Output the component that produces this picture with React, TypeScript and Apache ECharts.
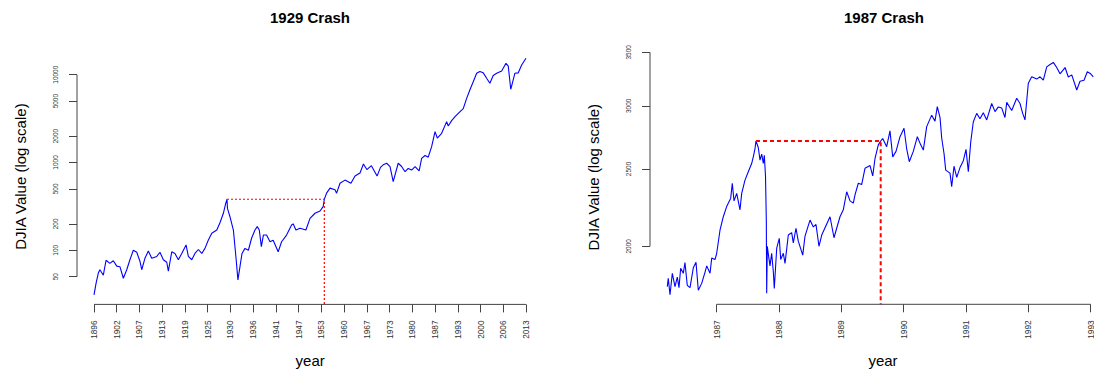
import React, { useEffect, useRef } from "react";
import * as echarts from "echarts";

// ---------- data ----------
// Left panel: x is the trading-day index axis measured in tick intervals (20 evenly spaced ticks)
const leftYearLabels = ["1896", "1902", "1907", "1913", "1919", "1925", "1930", "1936", "1941", "1947", "1953", "1960", "1967", "1973", "1980", "1987", "1993", "2000", "2006", "2013"];
const leftYTicks = [50, 100, 200, 500, 1000, 2000, 5000, 10000];
const leftPos = [
  0, 0.09, 0.19, 0.26, 0.41, 0.53, 0.7, 0.85, 1.0, 1.14, 1.29, 1.44, 1.58, 1.73, 1.88, 2.02, 2.1, 2.24, 2.39, 2.54,
  2.76, 2.9, 3.05, 3.2, 3.27, 3.42, 3.56, 3.71, 3.86, 4.05, 4.15, 4.3, 4.44, 4.59, 4.74, 4.88, 5.03, 5.18, 5.4, 5.54,
  5.69, 5.79, 5.85, 5.87, 5.98, 6.13, 6.24, 6.33, 6.42, 6.51, 6.64, 6.79, 6.93, 7.08, 7.18, 7.27, 7.36, 7.45, 7.59, 7.74,
  7.88, 8.1, 8.25, 8.47, 8.69, 8.76, 8.88, 9.06, 9.32, 9.5, 9.72, 9.94, 10.08, 10.13, 10.23, 10.38, 10.6, 10.67, 10.82, 11.04,
  11.3, 11.48, 11.7, 11.85, 12.0, 12.2, 12.45, 12.6, 12.72, 12.87, 13.02, 13.16, 13.38, 13.53, 13.68, 13.82, 13.97, 14.12, 14.3, 14.41,
  14.56, 14.7, 14.85, 15.0, 15.1, 15.29, 15.51, 15.58, 15.73, 15.88, 16.1, 16.24, 16.39, 16.53, 16.68, 16.83, 16.97, 17.12, 17.27, 17.41,
  17.56, 17.71, 17.93, 18.12, 18.22, 18.33, 18.51, 18.66, 18.81, 19.0,
];
const leftValues = [
  31, 42, 55, 60, 52, 77, 71, 76, 66, 65, 48, 60, 78, 100, 95, 75, 60, 81, 98, 81,
  85, 95, 78, 73, 58, 96, 92, 78, 92, 115, 85, 78, 92, 102, 92, 105, 131, 156, 170, 206,
  264, 340, 381, 300, 241, 170, 85, 46, 65, 92, 105, 100, 137, 170, 186, 170, 110, 149, 149, 125,
  130, 96, 125, 149, 194, 200, 170, 178, 170, 231, 264, 280, 314, 381, 447, 510, 490, 447, 580, 630,
  580, 700, 760, 960, 830, 920, 700, 880, 940, 980, 896, 604, 980, 900, 785, 855, 820, 896, 800, 1115,
  1200, 1150, 1514, 2244, 1900, 2150, 2919, 2600, 3000, 3326, 3794, 4100, 5380, 6700, 8320, 10370, 10900, 10500, 9100, 7980,
  9800, 10370, 11000, 13480, 12500, 6820, 10370, 10500, 12900, 15400,
];
const leftPeakPos = 5.85;
const leftRecoveryPos = 10.13;
const leftPeakValue = 381;

// Right panel: x is calendar years
const rightYearTicks = [1987, 1988, 1989, 1990, 1991, 1992, 1993];
const rightYTicks = [2000, 2500, 3000, 3500];
const rightYears = [
  1986.207, 1986.223, 1986.251, 1986.288, 1986.331, 1986.368, 1986.395, 1986.422, 1986.464, 1986.491,
  1986.528, 1986.572, 1986.625, 1986.668, 1986.705, 1986.759, 1986.812, 1986.84, 1986.893, 1986.92,
  1986.973, 1987.0, 1987.053, 1987.106, 1987.16, 1987.225, 1987.25, 1987.278, 1987.321, 1987.374,
  1987.401, 1987.454, 1987.507, 1987.562, 1987.587, 1987.614, 1987.63, 1987.667, 1987.695, 1987.722,
  1987.748, 1987.764, 1987.783, 1987.796, 1987.802, 1987.812, 1987.834, 1987.855, 1987.882, 1987.908,
  1987.924, 1987.963, 1988.004, 1988.027, 1988.069, 1988.096, 1988.149, 1988.203, 1988.229, 1988.272,
  1988.309, 1988.38, 1988.417, 1988.497, 1988.55, 1988.593, 1988.641, 1988.685, 1988.738, 1988.818,
  1988.882, 1988.925, 1988.978, 1989.031, 1989.086, 1989.139, 1989.192, 1989.219, 1989.272, 1989.326,
  1989.379, 1989.46, 1989.503, 1989.54, 1989.593, 1989.631, 1989.663, 1989.727, 1989.78, 1989.824,
  1989.877, 1989.941, 1990.005, 1990.048, 1990.09, 1990.154, 1990.219, 1990.273, 1990.315, 1990.369,
  1990.449, 1990.502, 1990.539, 1990.583, 1990.61, 1990.647, 1990.674, 1990.743, 1990.77, 1990.807,
  1990.851, 1990.903, 1990.957, 1991.0, 1991.037, 1991.075, 1991.117, 1991.171, 1991.224, 1991.277,
  1991.332, 1991.412, 1991.465, 1991.518, 1991.573, 1991.625, 1991.653, 1991.733, 1991.813, 1991.866,
  1991.909, 1991.946, 1991.999, 1992.054, 1992.134, 1992.187, 1992.24, 1992.295, 1992.348, 1992.401,
  1992.455, 1992.508, 1992.589, 1992.641, 1992.696, 1992.776, 1992.829, 1992.893, 1992.946, 1993.0,
  1993.042,
];
const rightValues = [
  1780, 1823, 1739, 1850, 1780, 1830, 1775, 1877, 1850, 1908,
  1787, 1775, 1880, 1910, 1762, 1797, 1855, 1890, 1850, 1933,
  1925, 1960, 2095, 2178, 2243, 2298, 2399, 2280, 2330, 2222,
  2330, 2421, 2480, 2541, 2589, 2650, 2710, 2660, 2565, 2610,
  2540, 2600, 2450, 2157, 1746, 2000, 1941, 1890, 1960, 1860,
  1771, 1990, 2046, 1925, 1960, 1903, 2066, 2080, 2020, 2107,
  2030, 1950, 2060, 2157, 2115, 2130, 2000, 2066, 2110, 2178,
  2050, 2107, 2178, 2222, 2341, 2280, 2265, 2320, 2399, 2390,
  2505, 2525, 2450, 2577, 2680, 2710, 2730, 2666, 2790, 2589,
  2630, 2744, 2812, 2650, 2553, 2630, 2744, 2680, 2640, 2825,
  2920, 2870, 2993, 2900, 2732, 2614, 2492, 2470, 2375, 2520,
  2440, 2510, 2560, 2645, 2480, 2700, 2865, 2935, 2890, 2940,
  2880, 3020, 2950, 2990, 2980, 2900, 3030, 2960, 3066, 3020,
  2935, 2880, 3201, 3262, 3240, 3262, 3230, 3357, 3380, 3400,
  3350, 3290, 3350, 3260, 3280, 3140, 3220, 3230, 3310, 3290,
  3262,
];
const rightPeakYear = 1987.63;
const rightRecoveryYear = 1989.631;
const rightPeakValue = 2710;

// ---------- axis ranges (R style, 4% padding) ----------
const L_X_MIN = -0.7477;
const L_X_MAX = 19.761;
const L_Y_MIN = 24.17;
const L_Y_MAX = 19726;
const R_X_MIN = 1985.93;
const R_X_MAX = 1993.406;
const R_Y_MIN = 1691.7;
const R_Y_MAX = 3524;

const FONT = "'Liberation Sans', Arial, Helvetica, sans-serif";
const AXIS_COLOR = "#444";

function segment(data: number[][], xi: number, color = AXIS_COLOR, width = 1, type: any = "solid") {
  return {
    type: "line",
    xAxisIndex: xi,
    yAxisIndex: xi,
    data,
    symbol: "none",
    clip: false,
    silent: true,
    lineStyle: { color, width, type },
  };
}

export default function App() {
  const ref = useRef<HTMLDivElement>(null);
  useEffect(() => {
    if (!ref.current) return;
    const chart = echarts.init(ref.current, undefined, { renderer: "svg" });
    const xCommon = (idx: number) => ({
      type: "value",
      gridIndex: idx,
      splitLine: { show: false },
      axisLine: { show: false, onZero: false },
      nameLocation: "middle",
      name: "year",
      nameGap: 49,
      nameTextStyle: { fontSize: 15, fontFamily: FONT, color: "#000" },
    });
    const yCommon = (idx: number) => ({
      type: "log",
      gridIndex: idx,
      splitLine: { show: false },
      axisLine: { show: false, onZero: false },
      name: "DJIA Value (log scale)",
      nameLocation: "middle",
      nameGap: 49,
      nameTextStyle: { fontSize: 15, fontFamily: FONT, color: "#000" },
    });
    const tick = (vals: number[]) => ({ show: true, length: 8, lineStyle: { color: AXIS_COLOR }, customValues: vals });
    const label = (vals: number[], size: number, margin: number, fmt: (v: number) => string) => ({
      customValues: vals,
      rotate: 90,
      margin,
      fontSize: size,
      color: "#333",
      fontFamily: FONT,
      formatter: fmt,
    });
    const leftIdx = leftYearLabels.map((_, i) => i);
    const leftSeries = leftPos.map((p, i) => [p, leftValues[i]]);
    const rightSeries = rightYears.map((p, i) => [p, rightValues[i]]);
    const titleStyle = { fontSize: 15, fontWeight: "bold", color: "#000", fontFamily: FONT };
    chart.setOption({
      animation: false,
      backgroundColor: "#fff",
      title: [
        { text: "1929 Crash", left: 310, top: 10, textAlign: "center", padding: 0, textStyle: titleStyle },
        { text: "1987 Crash", left: 884, top: 10, textAlign: "center", padding: 0, textStyle: titleStyle },
      ],
      grid: [
        { left: 77, top: 48.8, width: 466.3, height: 255.6, outerBoundsMode: "none", containLabel: false },
        { left: 650, top: 50, width: 466, height: 254.3, outerBoundsMode: "none", containLabel: false },
      ],
      xAxis: [
        {
          ...xCommon(0),
          min: L_X_MIN,
          max: L_X_MAX,
          axisTick: tick(leftIdx),
          axisLabel: label(leftIdx, 8.3, 16, (v: number) => leftYearLabels[Math.round(v)] ?? ""),
        },
        {
          ...xCommon(1),
          min: R_X_MIN,
          max: R_X_MAX,
          axisTick: tick(rightYearTicks),
          axisLabel: label(rightYearTicks, 8.3, 16, (v: number) => String(Math.round(v))),
        },
      ],
      yAxis: [
        {
          ...yCommon(0),
          min: L_Y_MIN,
          max: L_Y_MAX,
          axisTick: tick(leftYTicks),
          axisLabel: label(leftYTicks, 6.5, 18, (v: number) => String(Math.round(v))),
        },
        {
          ...yCommon(1),
          min: R_Y_MIN,
          max: R_Y_MAX,
          axisTick: tick(rightYTicks),
          axisLabel: label(rightYTicks, 6.5, 18, (v: number) => String(Math.round(v))),
        },
      ],
      series: [
        // axis lines (R style: from first to last tick)
        segment([[L_X_MIN, leftYTicks[0]], [L_X_MIN, leftYTicks[leftYTicks.length - 1]]], 0),
        segment([[0, L_Y_MIN], [leftYearLabels.length - 1, L_Y_MIN]], 0),
        segment([[R_X_MIN, rightYTicks[0]], [R_X_MIN, rightYTicks[rightYTicks.length - 1]]], 1),
        segment([[rightYearTicks[0], R_Y_MIN], [rightYearTicks[rightYearTicks.length - 1], R_Y_MIN]], 1),
        {
          type: "line",
          xAxisIndex: 0,
          yAxisIndex: 0,
          data: leftSeries,
          symbol: "none",
          silent: true,
          lineStyle: { color: "#0000ff", width: 1.1 },
        },
        {
          type: "line",
          xAxisIndex: 1,
          yAxisIndex: 1,
          data: rightSeries,
          symbol: "none",
          silent: true,
          lineStyle: { color: "#0000ff", width: 1.1 },
        },
        segment(
          [[leftPeakPos, leftPeakValue], [leftRecoveryPos, leftPeakValue], [leftRecoveryPos, L_Y_MIN]],
          0,
          "#ff0000",
          1.2,
          [2, 2]
        ),
        segment(
          [[rightPeakYear, rightPeakValue], [rightRecoveryYear, rightPeakValue], [rightRecoveryYear, R_Y_MIN]],
          1,
          "#ff0000",
          2,
          [4, 3]
        ),
      ],
    });
    return () => chart.dispose();
  }, []);
  return (
    <div
      ref={ref}
      style={{ position: "absolute", left: 0, top: 0, width: 1094, height: 371, background: "#fff" }}
    />
  );
}
